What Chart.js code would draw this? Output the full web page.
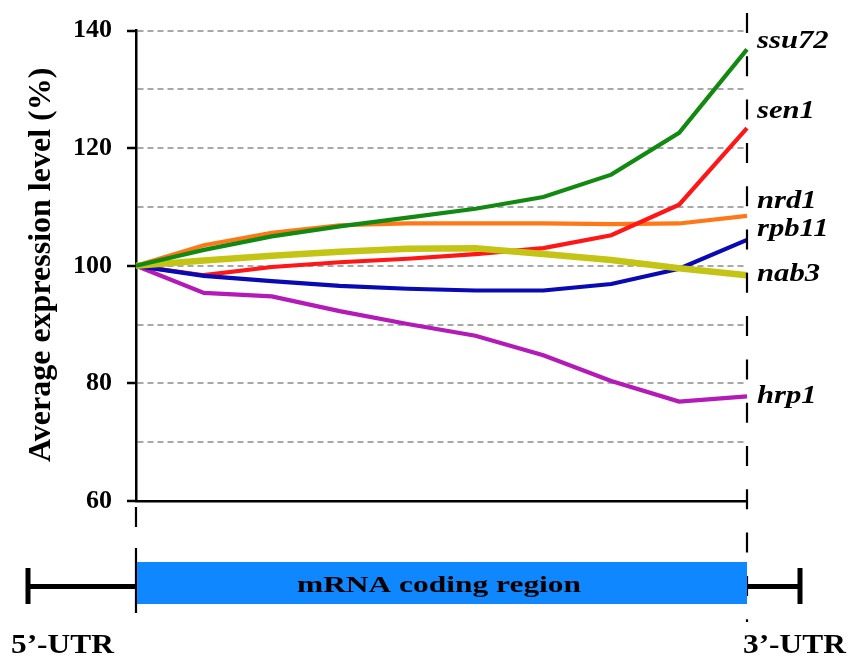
<!DOCTYPE html>
<html>
<head>
<meta charset="utf-8">
<script src="https://cdn.jsdelivr.net/npm/chart.js@4/dist/chart.umd.min.js"></script>
<style>
  html, body { margin: 0; padding: 0; background: #ffffff; }
  #wrap { width: 855px; height: 659px; }
</style>
</head>
<body>
<div id="wrap"><canvas id="c" width="855" height="659"></canvas></div>
<script>
// Positions along the transcript (5' end of coding region to 3' end)
const positions = ['1', '2', '3', '4', '5', '6', '7', '8', '9', '10'];

// Average expression level (%) per position for each gene
const ssu72 = [100, 102.7, 105.0, 106.7, 108.2, 109.7, 111.7, 115.5, 122.6, 136.8];
const sen1  = [100, 98.4, 99.8, 100.6, 101.2, 102.0, 103.0, 105.2, 110.4, 123.4];
const nrd1  = [100, 103.5, 105.6, 106.9, 107.2, 107.2, 107.2, 107.1, 107.2, 108.5];
const rpb11 = [100, 98.3, 97.4, 96.6, 96.1, 95.8, 95.8, 96.9, 99.5, 104.4];
const nab3  = [100, 100.9, 101.7, 102.4, 102.9, 103.0, 102.0, 101.0, 99.6, 98.4];
const hrp1  = [100, 95.4, 94.8, 92.3, 90.1, 88.1, 84.8, 80.4, 76.9, 77.8];

// Y axis range and labelled ticks
const yMin = 60;
const yMax = 140;
const yStep = 10;
const yLabelled = [60, 80, 100, 120, 140];

const SERIF = '"Liberation Serif", "Times New Roman", Times, serif';

// Series drawn top-most first (Chart.js paints dataset 0 last)
const series = [
  { name: 'ssu72', data: ssu72, color: '#128a12', width: 4.2 },
  { name: 'nab3',  data: nab3,  color: '#c4c414', width: 6.5 },
  { name: 'rpb11', data: rpb11, color: '#0a0ab4', width: 4.2 },
  { name: 'sen1',  data: sen1,  color: '#ff1616', width: 4.2 },
  { name: 'nrd1',  data: nrd1,  color: '#ff7818', width: 4.2 },
  { name: 'hrp1',  data: hrp1,  color: '#b31ab8', width: 4.2 }
];

// Gene name labels at the 3' end (baseline y in canvas pixels)
const endLabels = [
  { text: 'ssu72', y: 48 },
  { text: 'sen1',  y: 118 },
  { text: 'nrd1',  y: 208 },
  { text: 'rpb11', y: 236 },
  { text: 'nab3',  y: 281 },
  { text: 'hrp1',  y: 403 }
];

// Draws text stretched horizontally by sx
function drawScaledText(ctx, text, x, y, sx, align) {
  ctx.save();
  const w = ctx.measureText(text).width * sx;
  let left = x;
  if (align === 'center') left = x - w / 2;
  else if (align === 'right') left = x - w;
  ctx.translate(left, y);
  ctx.scale(sx, 1);
  ctx.textAlign = 'left';
  ctx.fillText(text, 0, 0);
  ctx.restore();
}

const decorations = {
  id: 'decorations',
  afterDraw(chart) {
    const ctx = chart.ctx;
    const xs = chart.scales.x;
    const ys = chart.scales.y;
    const xStart = xs.getPixelForValue(0);
    const xEnd = xs.getPixelForValue(positions.length - 1);

    ctx.save();
    ctx.strokeStyle = '#000';
    ctx.lineWidth = 2.2;

    // 3' boundary: dashed vertical through the plot and the diagram
    ctx.setLineDash([20, 23.3]);
    ctx.beginPath();
    ctx.moveTo(xEnd, 13);
    ctx.lineTo(xEnd, 622);
    ctx.stroke();

    // 5' boundary below the axis
    ctx.setLineDash([]);
    ctx.beginPath();
    ctx.moveTo(xStart, 507); ctx.lineTo(xStart, 527);
    ctx.moveTo(xStart, 548); ctx.lineTo(xStart, 613);
    ctx.stroke();

    // UTR bars with end caps
    const midY = 586.5;
    ctx.lineWidth = 5;
    ctx.beginPath();
    ctx.moveTo(28, midY); ctx.lineTo(xStart, midY);
    ctx.moveTo(xEnd, midY); ctx.lineTo(800, midY);
    ctx.moveTo(28, 568); ctx.lineTo(28, 604);
    ctx.moveTo(800, 568); ctx.lineTo(800, 604);
    ctx.stroke();

    // Coding region box
    ctx.fillStyle = '#0f87ff';
    ctx.fillRect(xStart + 1, 562, xEnd - xStart - 1, 42);

    ctx.fillStyle = '#000';
    ctx.textBaseline = 'alphabetic';
    ctx.font = 'bold 24px ' + SERIF;
    drawScaledText(ctx, 'mRNA coding region', 439, 592, 1.31, 'center');

    ctx.font = 'bold 28px ' + SERIF;
    drawScaledText(ctx, '5\u2019-UTR', 11, 653, 1.12, 'left');
    drawScaledText(ctx, '3\u2019-UTR', 743, 653, 1.12, 'left');

    // Gene names
    ctx.font = 'italic bold 26px ' + SERIF;
    endLabels.forEach(l => drawScaledText(ctx, l.text, 757, l.y, 1.18, 'left'));

    // Y axis title
    ctx.font = 'bold 32px ' + SERIF;
    ctx.translate(50, (ys.getPixelForValue(yMin) + ys.getPixelForValue(yMax)) / 2 - 1);
    ctx.rotate(-Math.PI / 2);
    ctx.textAlign = 'center';
    ctx.fillText('Average expression level (%)', 0, 0);
    ctx.restore();
  }
};

function build() {
  new Chart(document.getElementById('c'), {
    type: 'line',
    data: {
      labels: positions,
      datasets: series.map(s => ({
        label: s.name,
        data: s.data,
        borderColor: s.color,
        backgroundColor: s.color,
        borderWidth: s.width,
        pointRadius: 0,
        tension: 0,
        fill: false
      }))
    },
    options: {
      responsive: false,
      devicePixelRatio: 1,
      animation: false,
      events: [],
      layout: { padding: { top: 20, right: 108, bottom: 158, left: 0 } },
      plugins: { legend: { display: false }, tooltip: { enabled: false } },
      scales: {
        x: {
          type: 'category',
          offset: false,
          ticks: { display: false },
          grid: { display: false, drawTicks: false },
          border: { display: true, color: '#000', width: 2.5 },
          afterFit(scale) { scale.height = 0; }
        },
        y: {
          min: yMin,
          max: yMax,
          ticks: {
            stepSize: yStep,
            padding: 15,
            color: '#000',
            font: { family: SERIF, size: 26, weight: 'bold' },
            callback: v => (yLabelled.includes(v) ? String(v) : '')
          },
          grid: {
            color: ctx => (ctx.tick && ctx.tick.value === yMin ? 'rgba(0,0,0,0)' : '#a8a8a8'),
            lineWidth: 2,
            drawTicks: true,
            tickLength: 9,
            tickWidth: 2.5,
            tickColor: ctx => (ctx.tick && yLabelled.includes(ctx.tick.value) ? '#000' : 'rgba(0,0,0,0)')
          },
          border: { display: true, color: '#000', width: 2.5, dash: [6, 4] },
          afterFit(scale) { scale.width = 136; }
        }
      }
    },
    plugins: [decorations]
  });
}

// Make sure the serif faces are ready before painting the canvas
const faces = ['bold 24px "Liberation Serif"', 'italic bold 24px "Liberation Serif"'];
Promise.all(faces.map(f => document.fonts.load(f).catch(() => null)))
  .then(build, build);
</script>
</body>
</html>
